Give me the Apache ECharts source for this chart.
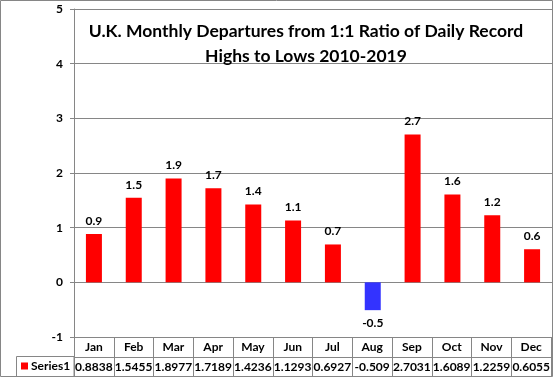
<!DOCTYPE html>
<html>
<head>
<meta charset="utf-8">
<script src="https://cdn.jsdelivr.net/npm/echarts@6/dist/echarts.min.js"></script>
<style>html,body{margin:0;padding:0;background:#fff}#c{width:553px;height:378px}</style>
</head>
<body>
<div id="c"></div>
<script>
var categories = ['Jan','Feb','Mar','Apr','May','Jun','Jul','Aug','Sep','Oct','Nov','Dec'];
var values = [0.8838,1.5455,1.8977,1.7189,1.4236,1.1293,0.6927,-0.509,2.7031,1.6089,1.2259,0.6055];
var tableLabels = ['0.8838','1.5455','1.8977','1.7189','1.4236','1.1293','0.6927','-0.509','2.7031','1.6089','1.2259','0.6055'];
var seriesName = 'Series1';
var titleText = 'U.K. Monthly Departures from 1:1 Ratio of Daily Record\nHighs to Lows 2010-2019';

var FONT = 'Lato';
var GRAY = '#868686';
var chart = echarts.init(document.getElementById('c'));
var barData = values.map(function (v) {
  return {
    value: v,
    itemStyle: { color: v < 0 ? '#3333ff' : '#ff0000' },
    label: { position: v < 0 ? 'bottom' : 'top' }
  };
});
chart.setOption({
  animation: false,
  title: {
    text: titleText,
    left: 301, top: 14, textAlign: 'center',
    textStyle: { fontFamily: FONT, fontWeight: 'bold', fontSize: 17.5, lineHeight: 25, color: '#000' }
  },
  legend: {
    data: [seriesName], left: 16, top: 355, icon: 'rect', itemWidth: 7, itemHeight: 7, itemGap: 4,
    textStyle: { fontFamily: FONT, fontWeight: 'bold', fontSize: 12, color: '#000', padding: [0,0,0,-2] }
  },
  grid: [
    { left: 74, right: 1, top: 9, bottom: 41, containLabel: false },
    { left: 74, right: 1, top: 337, height: 39.5, containLabel: false }
  ],
  xAxis: [
    { type: 'category', gridIndex: 0, data: categories, axisLine: { show: false }, axisTick: { show: false }, axisLabel: { show: false } },
    { type: 'category', gridIndex: 1, position: 'top', data: categories,
      axisLine: { show: false }, axisTick: { show: false },
      axisLabel: { inside: true, interval: 0, margin: 4, fontFamily: FONT, fontWeight: 'bold', fontSize: 12, color: '#000' },
      splitLine: { show: true, interval: 0, lineStyle: { color: GRAY, width: 1 } } },
    { type: 'category', gridIndex: 1, position: 'bottom', data: tableLabels,
      axisLine: { show: false }, axisTick: { show: false },
      axisLabel: { inside: true, interval: 0, hideOverlap: false, margin: 3, fontFamily: FONT, fontWeight: 'bold', fontSize: 12, color: '#000' } }
  ],
  yAxis: [
    { type: 'value', gridIndex: 0, min: -1, max: 5, interval: 1,
      axisLine: { show: true, lineStyle: { color: GRAY } },
      axisTick: { show: true, length: 4, lineStyle: { color: GRAY } },
      axisLabel: { margin: 11, fontFamily: FONT, fontWeight: 'bold', fontSize: 12, color: '#000' },
      splitLine: { show: true, lineStyle: { color: GRAY, width: 1 } } },
    { type: 'value', gridIndex: 1, min: 0, max: 2, interval: 1,
      axisLine: { show: false }, axisTick: { show: false }, axisLabel: { show: false },
      splitLine: { show: true, lineStyle: { color: GRAY, width: 1 } } }
  ],
  series: [{
    name: seriesName, type: 'bar', xAxisIndex: 0, yAxisIndex: 0, barWidth: 16,
    itemStyle: { color: '#ff0000' },
    data: barData,
    label: { show: true, distance: 7, fontFamily: FONT, fontWeight: 'bold', fontSize: 12, color: '#000',
      formatter: function (p) { return p.value.toFixed(1); } }
  }],
  graphic: [
    { type: 'rect', silent: true, shape: { x: 0.5, y: 0.5, width: 552, height: 376 }, style: { fill: 'none', stroke: GRAY, lineWidth: 1 } },
    { type: 'rect', silent: true, shape: { x: 16.5, y: 356.5, width: 57.5, height: 20 }, style: { fill: 'none', stroke: GRAY, lineWidth: 1 } }
  ]
});
</script>
</body>
</html>
